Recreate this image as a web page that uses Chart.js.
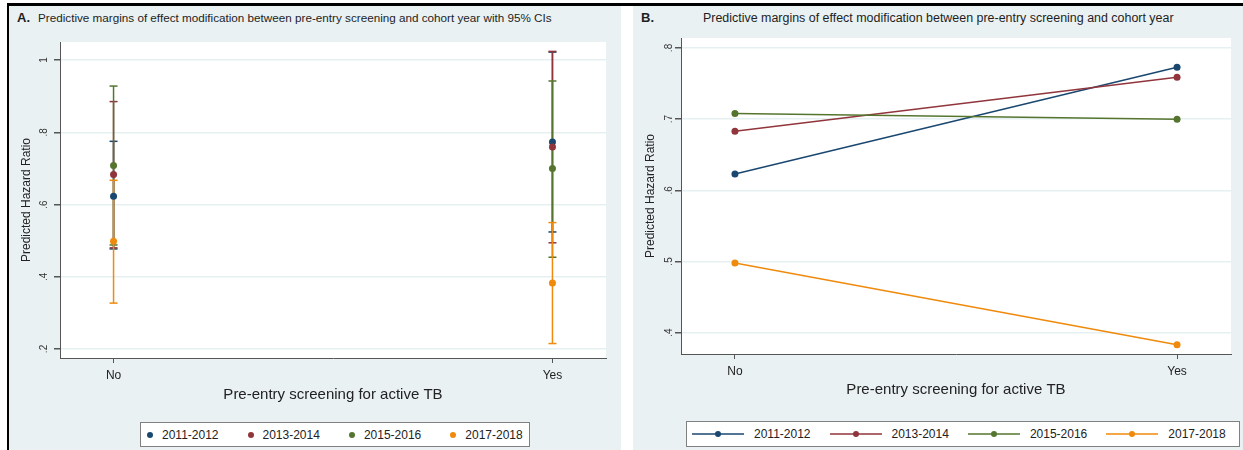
<!DOCTYPE html>
<html>
<head>
<meta charset="utf-8">
<script src="https://cdn.jsdelivr.net/npm/chart.js@4.4.1/dist/chart.umd.min.js"></script>
<style>
  body { margin: 0; width: 1243px; height: 450px; background: #fff; overflow: hidden; position: relative;
         font-family: "Liberation Sans", Arial, sans-serif; color: #222; }
  .rule-top { position: absolute; left: 7px; top: 3px; width: 1236px; height: 3px; background: #000; }
  .rule-left { position: absolute; left: 7px; top: 3px; width: 2px; height: 447px; background: #000; }
  .panel { position: absolute; top: 6px; height: 444px; background: #e9f1f3; }
  #panelA { left: 9px; width: 612px; }
  #panelB { left: 633px; width: 610px; }
  .tag, .title { position: absolute; white-space: nowrap; color: #1e1e1e; line-height: 14px; }
  .tag { font-weight: bold; font-size: 13px; }
  .chart { position: absolute; left: 0; }
  .legend { position: absolute; background: #fff; border: 1px solid #808080; box-sizing: border-box;
            display: flex; align-items: center; font-size: 12px; color: #222; white-space: nowrap; }
  .legend .item { display: flex; align-items: center; flex-shrink: 0; }
  .legend .dot { width: 6px; height: 6px; border-radius: 50%; display: inline-block; }
</style>
</head>
<body>
<div class="rule-top"></div>
<div class="rule-left"></div>

<div class="panel" id="panelA">
  <span class="tag" style="left:8px; top:5px;">A.</span>
  <span class="title" style="left:29px; top:5px; font-size:11.7px;">Predictive margins of effect modification between pre-entry screening and cohort year with 95% CIs</span>
  <div class="chart" style="top:24px;"><canvas id="chartA" width="612" height="380"></canvas></div>
  <div class="legend" id="legendA" style="left:131px; top:416px; width:390px; height:25px; padding-left:6px;"></div>
</div>

<div class="panel" id="panelB">
  <span class="tag" style="left:8px; top:5px;">B.</span>
  <span class="title" style="left:70px; top:5px; font-size:12.45px;">Predictive margins of effect modification between pre-entry screening and cohort year</span>
  <div class="chart" style="top:22px;"><canvas id="chartB" width="610" height="382"></canvas></div>
  <div class="legend" id="legendB" style="left:53px; top:415px; width:554px; height:26px; padding-left:5px;"></div>
</div>

<script>
// Data
const CATEGORIES = ['No', 'Yes'];
const SERIES = ['2011-2012', '2013-2014', '2015-2016', '2017-2018'];

// predicted hazard ratio (margin) per category
const EST_2011_2012 = [0.623, 0.773];
const EST_2013_2014 = [0.683, 0.759];
const EST_2015_2016 = [0.708, 0.700];
const EST_2017_2018 = [0.498, 0.383];

// 95% CI lower / upper bounds
const LO_2011_2012 = [0.477, 0.524];
const HI_2011_2012 = [0.775, 1.022];
const LO_2013_2014 = [0.480, 0.494];
const HI_2013_2014 = [0.885, 1.024];
const LO_2015_2016 = [0.488, 0.454];
const HI_2015_2016 = [0.928, 0.942];
const LO_2017_2018 = [0.327, 0.215];
const HI_2017_2018 = [0.667, 0.550];

const YTICKS_A = [0.2, 0.4, 0.6, 0.8, 1];
const YTICKS_B = [0.4, 0.5, 0.6, 0.7, 0.8];

const EST = [EST_2011_2012, EST_2013_2014, EST_2015_2016, EST_2017_2018];
const LO = [LO_2011_2012, LO_2013_2014, LO_2015_2016, LO_2017_2018];
const HI = [HI_2011_2012, HI_2013_2014, HI_2015_2016, HI_2017_2018];

const COLORS = ['#1a476f', '#90353b', '#55752f', '#ef8a0c'];
const AXIS = '#555555';
const GRID = '#e6eff1';

Chart.defaults.font.family = '"Liberation Sans", Arial, sans-serif';
Chart.defaults.color = '#222';

// white plot region on top of the tinted panel
const plotBg = {
  id: 'plotBg',
  beforeDraw(chart) {
    const {ctx, chartArea: a} = chart;
    ctx.save();
    ctx.fillStyle = '#fff';
    ctx.fillRect(a.left, a.top, a.right - a.left, a.bottom - a.top);
    ctx.restore();
  }
};

// stata style tick labels: ".8" instead of "0.8"
function fmtTick(v) {
  return String(v).replace(/^0\./, '.');
}

function scalesFor(yMin, yMax, yTicks, yWidth, yTickPad, xHeight, xTitlePad) {
  return {
    x: {
      type: 'linear',
      min: -0.122,
      max: 1.122,
      afterBuildTicks: s => { s.ticks = CATEGORIES.map((c, i) => ({value: i})); },
      afterFit: s => { s.height = xHeight; },
      ticks: {callback: v => CATEGORIES[v], font: {size: 12}, color: '#222', padding: 5, maxRotation: 0},
      grid: {drawOnChartArea: false, tickLength: 5, tickColor: AXIS},
      border: {color: AXIS, width: 1},
      title: {display: true, text: 'Pre-entry screening for active TB', font: {size: 15}, color: '#222',
              padding: {top: 0, bottom: xTitlePad}}
    },
    y: {
      min: yMin,
      max: yMax,
      afterBuildTicks: s => { s.ticks = yTicks.map(v => ({value: v})); },
      afterFit: s => { s.width = yWidth; },
      ticks: {callback: v => fmtTick(v), font: {size: 10}, color: '#333', minRotation: 90, maxRotation: 90,
              crossAlign: 'center', padding: yTickPad},
      grid: {color: GRID, lineWidth: 1.5, tickLength: 6, tickColor: AXIS},
      border: {color: AXIS, width: 1},
      title: {display: true, text: 'Predicted Hazard Ratio', font: {size: 12}, color: '#222', padding: {top: 10, bottom: 0}}
    }
  };
}

// Panel A: points with 95% CI bars
const dsA = [];
SERIES.forEach((name, i) => {
  CATEGORIES.forEach((cat, j) => {
    dsA.push({
      label: name + ' CI ' + cat,
      data: [{x: j, y: LO[i][j]}, {x: j, y: HI[i][j]}],
      borderColor: COLORS[i],
      borderWidth: 1.5,
      pointStyle: 'line',
      pointRadius: 4,
      pointBorderColor: COLORS[i],
      pointBorderWidth: 1.5,
      order: 20 - i
    });
  });
});
SERIES.forEach((name, i) => {
  dsA.push({
    label: name,
    data: CATEGORIES.map((c, j) => ({x: j, y: EST[i][j]})),
    showLine: false,
    pointRadius: 3.5,
    pointBackgroundColor: COLORS[i],
    pointBorderColor: COLORS[i],
    pointBorderWidth: 0,
    order: 10 - i
  });
});

new Chart(document.getElementById('chartA'), {
  type: 'line',
  data: {datasets: dsA},
  options: {
    responsive: false,
    animation: false,
    events: [],
    layout: {padding: {left: 0, right: 15, top: 10, bottom: 0}},
    plugins: {legend: {display: false}, tooltip: {enabled: false}},
    scales: scalesFor(0.175, 1.05, YTICKS_A, 51, 6, 52, 6)
  },
  plugins: [plotBg]
});

// Panel B: connected margins
const dsB = SERIES.map((name, i) => ({
  label: name,
  data: CATEGORIES.map((c, j) => ({x: j, y: EST[i][j]})),
  borderColor: COLORS[i],
  borderWidth: 1.5,
  pointRadius: 3.5,
  pointBackgroundColor: COLORS[i],
  pointBorderColor: COLORS[i],
  pointBorderWidth: 0,
  order: 10 - i
}));

new Chart(document.getElementById('chartB'), {
  type: 'line',
  data: {datasets: dsB},
  options: {
    responsive: false,
    animation: false,
    events: [],
    layout: {padding: {left: 0, right: 12, top: 10, bottom: 0}},
    plugins: {legend: {display: false}, tooltip: {enabled: false}},
    scales: scalesFor(0.37, 0.814, YTICKS_B, 48, 2, 56, 11)
  },
  plugins: [plotBg]
});

// Legends
const legA = document.getElementById('legendA');
SERIES.forEach((name, i) => {
  const it = document.createElement('div');
  it.className = 'item';
  it.style.marginRight = i < SERIES.length - 1 ? '29px' : '0';
  it.innerHTML = '<span class="dot" style="background:' + COLORS[i] + '"></span>' +
                 '<span style="margin-left:9px">' + name + '</span>';
  legA.appendChild(it);
});

const legB = document.getElementById('legendB');
SERIES.forEach((name, i) => {
  const it = document.createElement('div');
  it.className = 'item';
  it.style.marginRight = i < SERIES.length - 1 ? '19px' : '0';
  it.innerHTML = '<svg width="52" height="8"><line x1="0" y1="4" x2="52" y2="4" stroke="' + COLORS[i] +
                 '" stroke-width="1.5"/><circle cx="26" cy="4" r="3" fill="' + COLORS[i] + '"/></svg>' +
                 '<span style="margin-left:10px">' + name + '</span>';
  legB.appendChild(it);
});
</script>
</body>
</html>
